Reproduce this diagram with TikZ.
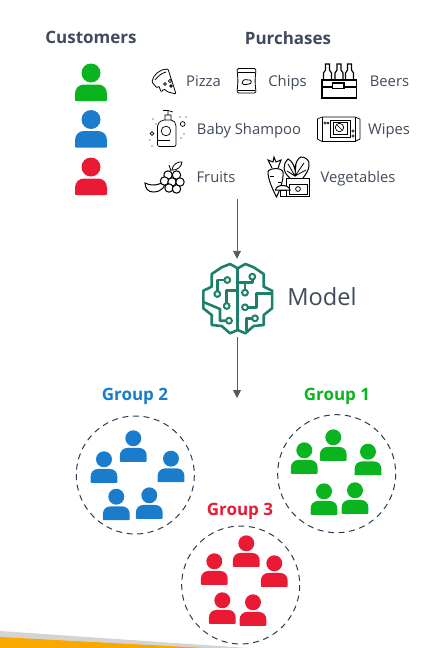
\documentclass[tikz,border=0pt]{standalone}
\usepackage{xcolor}
\usepackage{fontspec}
\setmainfont{Open Sans}
\usetikzlibrary{arrows.meta}

\definecolor{grpgreen}{HTML}{0AB41E}
\definecolor{grpblue}{HTML}{1A7CCB}
\definecolor{grpred}{HTML}{EA1A35}
\definecolor{labeltxt}{HTML}{404A5A}
\definecolor{circleln}{HTML}{2B3B55}
\definecolor{brainln}{HTML}{1E7F6B}
\definecolor{bandorg}{HTML}{F9A800}
\definecolor{bandgry}{HTML}{D4D4D4}
\definecolor{flowln}{HTML}{595959}

\tikzset{
    heading/.style={font=\bfseries\fontsize{17}{19}\selectfont, inner sep=0pt, anchor=base},
    itemlabel/.style={text=labeltxt, font=\fontsize{14.8}{16}\selectfont, inner sep=0pt, anchor=base},
    icon/.style={black, line width=0.8pt},
    grouparea/.style={circleln, line width=1pt, dash pattern=on 6pt off 4.6pt},
    brain/.style={brainln, line width=2.6pt, line join=round},
    flow/.style={flowln, line width=0.9pt, -{Triangle[length=8pt,width=8pt]}}
}

% x, y, colour, scale
\newcommand{\person}[4]{
    \begin{scope}[shift={(#1,#2)}, scale=#4]
        \fill[#3] (0,0) circle (9.5);
        \fill[#3] (-16,27) .. controls (-16,27.7) and (-15.7,28) .. (-15,28) -- (15,28) .. controls (15.7,28) and (16,27.7) .. (16,27) -- (16,21) .. controls (16,15) and (12,11.5) .. (7,11.5) -- (-7,11.5) .. controls (-12,11.5) and (-16,15) .. (-16,21) -- cycle;
    \end{scope}
}
% x, y of a small circuit pad
\newcommand{\pad}[2]{
    \filldraw[brain, fill=white, line width=2pt] (#1,#2) circle (2.9);
}

\begin{document}
\begin{tikzpicture}[x=1pt, y=-1pt]
    \useasboundingbox (0,0) rectangle (432,648);

    % banda inferior
    \fill[bandgry] (0,631) -- (248,648) -- (0,648) -- cycle;
    \fill[bandorg] (0,637) -- (205,648) -- (0,648) -- cycle;

    % titulos
    \node[heading, text=labeltxt] (customers) at (91,43.3) {Customers};
    \node[heading, text=labeltxt] (purchases) at (288,44) {Purchases};

    % clientes
    \person{91}{73}{grpgreen}{1}
    \person{91}{119.5}{grpblue}{1}
    \person{91}{167}{grpred}{1}

    % etiquetas de compras
    \node[itemlabel] (pizza) at (203.5,86.7) {Pizza};
    \node[itemlabel] (chips) at (287.5,86.7) {Chips};
    \node[itemlabel] (beers) at (389.5,86) {Beers};
    \node[itemlabel] (shampoo) at (249,134.3) {Baby Shampoo};
    \node[itemlabel] (wipes) at (389,134.3) {Wipes};
    \node[itemlabel] (fruits) at (216,182) {Fruits};
    \node[itemlabel] (vegetables) at (358,182) {Vegetables};

    % pizza
    \draw[icon, rounded corners=1pt] (176,94) -- (168,69) .. controls (160,69) and (153,75) .. (152,82) -- (157,88) -- (159,86) -- (161,92) -- (164,89) -- (168,92) -- cycle;
    \draw[icon] (155,80) .. controls (158,76) and (162,73) .. (166,72);
    \draw[icon] (170,81) circle (1.6) (165,84) circle (1.4) (171,86) circle (1.3);

    % chips
    \draw[icon, rounded corners=1.5pt] (237,68.5) -- (256,68.5) -- (255,81) -- (256,93) -- (237,93) -- (238,81) -- cycle;
    \draw[icon] (238,72) -- (255,72) (238,90) -- (255,90);
    \draw[icon] (242,83) .. controls (243,78) and (247,80) .. (249,80) .. controls (252,79) and (252,84) .. (249,84) .. controls (247,84) and (244,86) .. (242,83);

    % cervezas
    \draw[icon, line width=1.4pt] (322,80) rectangle (356.5,98);
    \draw[icon, line width=1.4pt] (322,87) -- (356.5,87);
    \fill[white] (332.5,83) rectangle (344,88.5);
    \draw[icon, line width=1.2pt] (332.5,83) rectangle (344,88.5);
    \foreach \bx in {327.5,339,349.5} {
        \draw[icon, line width=1.2pt] (\bx-4,80) -- (\bx-4,73) -- (\bx-2,70) -- (\bx-2,64) -- (\bx+2,64) -- (\bx+2,70) -- (\bx+4,73) -- (\bx+4,80);
    }

    % shampoo
    \draw[icon, line width=0.7pt, rounded corners=2pt] (157.5,146.5) -- (157.5,124) -- (162,120) -- (173,120) -- (176,124) -- (176,146.5) -- cycle;
    \draw[icon, line width=0.7pt] (165,120) -- (165,115) -- (171,115) -- (171,120) (168,115) -- (168,110.5) -- (163,110.5) (168,110.5) -- (173,112);
    \draw[icon, line width=0.7pt] (166,131) circle (4.8) (182.7,124) circle (2.4) (152,133.5) circle (1.8);
    \draw[icon, line width=0.7pt] (158,140) -- (170,140);
    \foreach \dx/\dy in {153/119,156/124,150/140,152/146,180/117,186/117,181/138,184/134} {
        \fill[black] (\dx,\dy) circle (0.7);
    }

    % toallitas
    \draw[icon, line width=0.7pt] (322,117) -- (355,117) -- (360,119) -- (360,139) -- (355,141.5) -- (322,141.5) -- (317.5,139) -- (317.5,119) -- cycle;
    \draw[icon, line width=0.7pt] (322,117) -- (322,141.5) (355,117) -- (355,141.5);
    \draw[icon] (330,120) rectangle (350,137);
    \draw[icon, line width=0.7pt] (333,122.5) rectangle (347,134);
    \draw[icon, line width=0.7pt] (339.5,127.5) circle (4.2);
    \draw[icon, line width=0.6pt] (337,125) -- (342,130);
    \draw[icon, line width=0.6pt] (325,123) circle (1.2) (328,123) circle (1) (353,131) circle (1.2) (353,136) circle (1.2);

    % frutas
    \draw[icon, line width=1pt] (145,183) .. controls (150,186) and (158,186) .. (165,181) .. controls (166,186) and (162,192) .. (153,192) .. controls (148,192) and (145,188) .. (145,183) -- cycle;
    \foreach \gx/\gy in {168/175,176.5/175,164.5/181,172/182,180/182,169/188,176.5/189} {
        \filldraw[icon, fill=white, line width=1pt] (\gx,\gy) circle (4.2);
    }
    \draw[icon] (171,171) -- (169,165) (172,170) .. controls (172,165) and (178,161) .. (182,162) .. controls (182,166) and (177,171) .. (172,170) -- cycle;

    % verduras
    \draw[icon, line width=1pt] (268,172) .. controls (268,168) and (282,167) .. (283,172) .. controls (284,180) and (279,192) .. (276.5,197) .. controls (273,190) and (268,180) .. (268,172) -- cycle;
    \draw[icon, line width=1pt] (272,168) -- (268,160) -- (273,162) -- (274,157) -- (276,162) -- (281,160) -- (278,168);
    \draw[icon] (270,176) -- (274,176) (278,182) -- (281,182);
    \draw[icon, line width=1pt] (290,178) .. controls (282,172) and (283,163) .. (288,159) .. controls (292,161) and (294,165) .. (295,170) .. controls (295,163) and (298,158) .. (301,157) .. controls (305,157) and (310,160) .. (309,165) .. controls (309,170) and (306,174) .. (303,178);
    \draw[icon] (288,164) -- (295,176) -- (296,165) (295,176) -- (304,163) (287,171) -- (295,176) (306,170) -- (295,176);
    \filldraw[icon, fill=white, line width=1pt] (286,178) rectangle (309.5,196.5);
    \draw[icon] (289,184) rectangle (307,194);
    \draw[icon] (298,189) circle (2.4);
    \filldraw[icon, fill=white, line width=1pt] (275.5,190) .. controls (276,184) and (289,184) .. (290,190) -- cycle;
    \filldraw[icon, fill=white, line width=1pt] (280,190) rectangle (286,196);

    % modelo
    \node[inner sep=0pt, minimum width=72pt, minimum height=78pt] (model) at (237,298) {};
    \node[text=labeltxt, font=\fontsize{23.6}{26}\selectfont, inner sep=0pt, anchor=base] (modeltxt) at (322,305.5) {Model};
    \draw[brain] (237.7,268.3) -- (230,264) -- (221.7,267.3) -- (211.7,274) -- (211.7,286.7) -- (203.3,290.7) -- (203.3,308.3) -- (211.7,315) -- (211.7,325) -- (221.7,326) -- (230,333.3) -- (237.7,330) -- (245.4,333.3) -- (253.7,326) -- (263.7,325) -- (263.7,315) -- (272.1,308.3) -- (272.1,290.7) -- (263.7,286.7) -- (263.7,274) -- (253.7,267.3) -- (245.4,264) -- cycle;
    \draw[brain] (237.7,268.3) -- (237.7,330);
    \draw[brain] (227.3,280) -- (217.3,280) -- (217.3,294);
    \draw[brain] (226.7,306) -- (226.7,290.7) -- (237.7,290.7);
    \draw[brain] (229,320.7) -- (220,320.7) -- (220,309) -- (203.3,302);
    \draw[brain] (252.3,276.7) -- (252.3,282.7) -- (237.7,282.7);
    \draw[brain] (245,292.7) -- (245,282.7);
    \draw[brain] (245,307.3) -- (256.7,307.3) -- (256.7,293.3) -- (272.1,293.3);
    \draw[brain] (255,318.3) -- (246.7,318.3) -- (246.7,331);
    \pad{227.3}{280}
    \pad{217.3}{294}
    \pad{226.7}{306}
    \pad{229}{320.7}
    \pad{252.3}{276.7}
    \pad{245}{292.7}
    \pad{245}{307.3}
    \pad{255}{318.3}

    % flechas
    \coordinate (flowin) at (237,199);
    \coordinate (flowout) at (237,398);
    \draw[flow] (flowin) -- (model);
    \draw[flow] (model) -- (flowout);

    % grupo 2
    \node[heading, text=grpblue] (grouptwo) at (135,400.5) {Group 2};
    \draw[grouparea] (135.3,475) circle (59);
    \person{133.3}{438.3}{grpblue}{0.84}
    \person{104}{459.3}{grpblue}{0.84}
    \person{171}{458.7}{grpblue}{0.84}
    \person{116.3}{496.7}{grpblue}{0.84}
    \person{149.3}{495.3}{grpblue}{0.84}

    % grupo 1
    \node[heading, text=grpgreen] (groupone) at (337,400.5) {Group 1};
    \draw[grouparea] (336.7,473.7) circle (59);
    \person{333.3}{437.3}{grpgreen}{0.84}
    \person{304.3}{450.3}{grpgreen}{0.84}
    \person{368}{451.7}{grpgreen}{0.84}
    \person{324}{491.3}{grpgreen}{0.84}
    \person{355}{490.3}{grpgreen}{0.84}

    % grupo 3
    \node[heading, text=grpred] (groupthree) at (240,515) {Group 3};
    \draw[grouparea] (240.7,585) circle (59);
    \person{246.3}{543.3}{grpred}{0.84}
    \person{214.3}{561.3}{grpred}{0.84}
    \person{274.3}{563.3}{grpred}{0.84}
    \person{222.3}{600.3}{grpred}{0.84}
    \person{253}{602.3}{grpred}{0.84}

\end{tikzpicture}
\end{document}
